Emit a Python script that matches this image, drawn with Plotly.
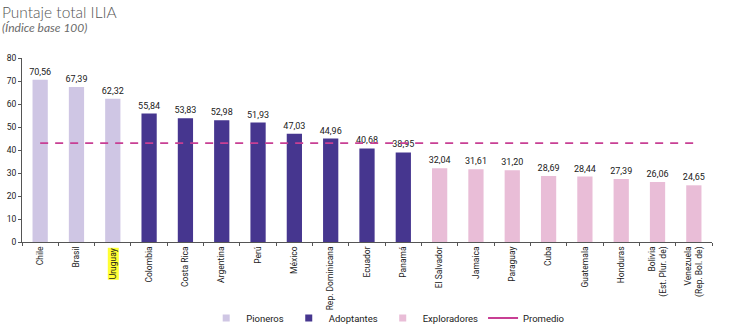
import plotly.graph_objects as go

# ILIA total score by country, grouped by maturity level
pioneros = ["Chile", "Brasil", "Uruguay"]
pioneros_vals = [70.56, 67.39, 62.32]

adoptantes = ["Colombia", "Costa Rica", "Argentina", "Perú", "México",
              "Rep. Dominicana", "Ecuador", "Panamá"]
adoptantes_vals = [55.84, 53.83, 52.98, 51.93, 47.03, 44.96, 40.68, 38.95]

exploradores = ["El Salvador", "Jamaica", "Paraguay", "Cuba", "Guatemala",
                "Honduras", "Bolivia<br>(Est. Plur. de)",
                "Venezuela<br>(Rep. Bol. de)"]
exploradores_vals = [32.04, 31.61, 31.20, 28.69, 28.44, 27.39, 26.06, 24.65]

promedio = 42.98
highlighted = "Uruguay"

y_ticks = [0, 10, 20, 30, 40, 50, 60, 70, 80]

categories = pioneros + adoptantes + exploradores

FONT = "Roboto, sans-serif"
C_PIO = "#cfc6e4"
C_ADO = "#46368f"
C_EXP = "#e9bdd7"
C_AVG = "#c83f94"

fig = go.Figure()

groups = [("Pioneros", pioneros, pioneros_vals, C_PIO),
          ("Adoptantes", adoptantes, adoptantes_vals, C_ADO),
          ("Exploradores", exploradores, exploradores_vals, C_EXP)]

for name, cats, vals, col in groups:
    fig.add_trace(go.Bar(
        x=cats, y=vals, name=name, showlegend=False,
        marker=dict(color=col, line=dict(width=0)),
        text=vals, texttemplate="%{y:.2f}", textposition="outside",
        constraintext="none",
        textfont=dict(family=FONT, size=9, color="#1a1a1a"),
        cliponaxis=False,
    ))

fig.add_trace(go.Scatter(
    x=categories, y=[promedio] * len(categories), name="Promedio",
    mode="lines", showlegend=False,
    line=dict(color=C_AVG, width=1.8, dash="8px,7px"),
))

# compact legend keys: small squares for the groups, a short solid line for the average
for name, _, _, col in groups:
    fig.add_trace(go.Scatter(
        x=[None], y=[None], name=name, mode="markers",
        marker=dict(symbol="square", size=7, color=col),
    ))
fig.add_trace(go.Scatter(
    x=[None], y=[None], name="Promedio", mode="lines",
    line=dict(color=C_AVG, width=1.8),
))

# tick labels: the highlighted country is drawn separately with a yellow background
ticktext = ["" if c == highlighted else c for c in categories]

fig.update_layout(
    width=730, height=327,
    margin=dict(l=22, r=18, t=58, b=85),
    paper_bgcolor="white", plot_bgcolor="white",
    separators=",.",
    bargap=0.58,
    barmode="overlay",
    font=dict(family=FONT, size=9, color="#1a1a1a"),
    showlegend=True,
    legend=dict(orientation="h", xref="paper", x=0.53, xanchor="center",
                yref="container", y=9 / 327, yanchor="middle",
                bgcolor="rgba(0,0,0,0)",
                font=dict(family=FONT, size=9.5, color="#1a1a1a"),
                itemwidth=30, tracegroupgap=0),
    xaxis=dict(
        categoryorder="array", categoryarray=categories,
        tickmode="array", tickvals=categories, ticktext=ticktext,
        tickangle=-90, ticks="outside", ticklen=3, tickcolor="#555555",
        showline=True, linecolor="#555555", linewidth=1,
        tickson="boundaries", showgrid=False, automargin=False,
        tickfont=dict(family=FONT, size=8.5, color="#1a1a1a"),
        range=[-0.5, len(categories) - 0.5],
    ),
    yaxis=dict(
        range=[0, 80], tickvals=y_ticks, ticks="outside", ticklen=3,
        tickcolor="#555555", showline=True, linecolor="#555555", linewidth=1,
        showgrid=False, zeroline=False, automargin=False,
        tickfont=dict(family=FONT, size=8.5, color="#1a1a1a"),
    ),
    annotations=[
        dict(text="Puntaje total ILIA", xref="paper", yref="paper",
             x=-0.032, y=1.0, xanchor="left", yanchor="bottom", yshift=35,
             showarrow=False,
             font=dict(family="Lato", size=15.5, weight=300, color="#555555")),
        dict(text="<i>(Índice base 100)</i>", xref="paper", yref="paper",
             x=-0.032, y=1.0, xanchor="left", yanchor="bottom", yshift=21,
             showarrow=False,
             font=dict(family="Lato", size=12, weight=400, color="#6a6a6a")),
        dict(text=highlighted, x=highlighted, xref="x", yref="paper", y=0,
             yanchor="top", xanchor="center", yshift=-5, textangle=-90,
             showarrow=False, bgcolor="#ffff33", borderpad=0,
             font=dict(family=FONT, size=8.5, color="#1a1a1a")),
    ],
)

fig.write_html("out.html")
